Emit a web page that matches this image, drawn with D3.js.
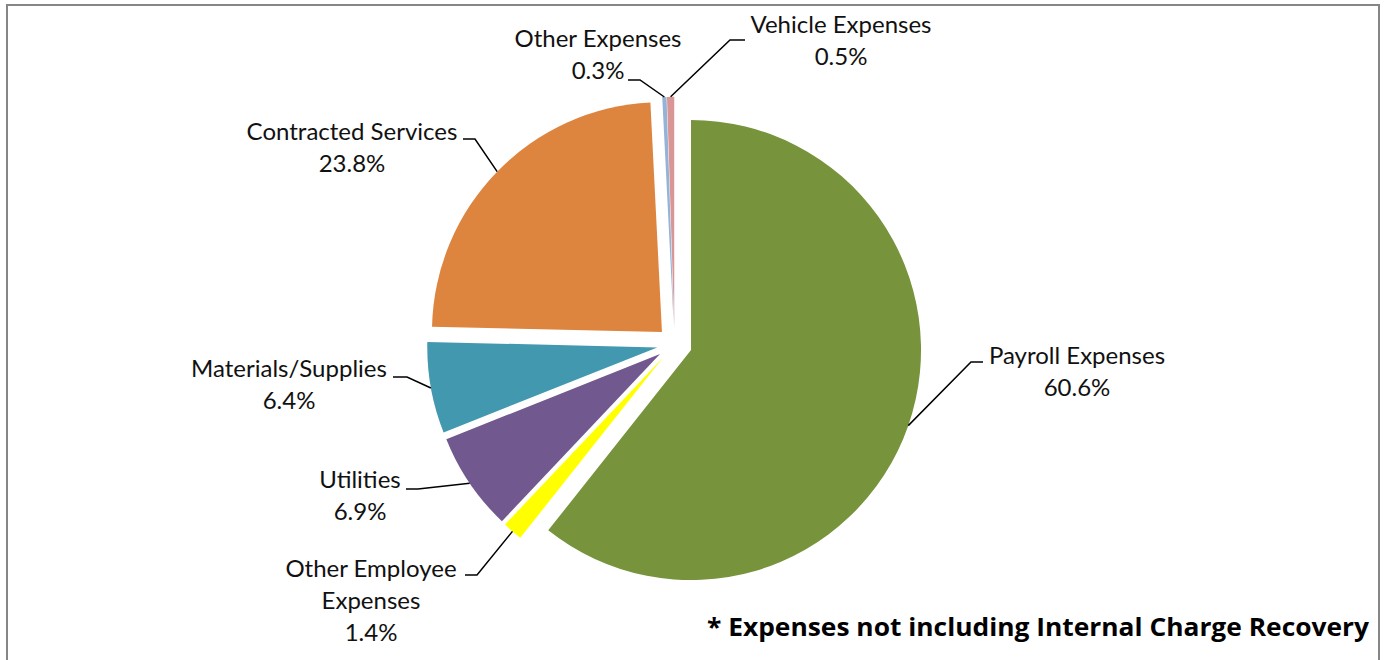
<!DOCTYPE html>
<html>
<head>
<meta charset="utf-8">
<script src="https://cdn.jsdelivr.net/npm/d3@7"></script>
<style>
  html, body { margin: 0; padding: 0; background: #fff; }
  svg { display: block; }
  .lbl { font-family: Lato, "Open Sans", sans-serif; font-size: 24px; fill: #111; }
  .note { font-family: "Open Sans", Lato, sans-serif; font-weight: 700; font-size: 25px; fill: #000; }
</style>
</head>
<body>
<svg id="chart" width="1386" height="660"></svg>
<script>
// Expense categories, in drawing order (clockwise from 12 o'clock)
const categories = [
  "Payroll Expenses",
  "Other Employee Expenses",
  "Utilities",
  "Materials/Supplies",
  "Contracted Services",
  "Other Expenses",
  "Vehicle Expenses"
];
// Share of total expenses, percent
const shares = [60.6, 1.4, 6.9, 6.4, 23.8, 0.3, 0.5];
// Label text lines for each category (the percentage is appended from shares)
const labelLines = [
  ["Payroll Expenses"],
  ["Other Employee", "Expenses"],
  ["Utilities"],
  ["Materials/Supplies"],
  ["Contracted Services"],
  ["Other Expenses"],
  ["Vehicle Expenses"]
];
const footnote = "* Expenses not including Internal Charge Recovery";

// ---- styling & layout ----
const colors = ["#77933C", "#FFFF00", "#71588F", "#4298AF", "#DD843F", "#95B3D7", "#D99694"];
const center = { x: 674.5, y: 344.3 };
const radius = 230;
const explode = 17.5;
const lineGap = 32;
// label placement: text centre x, first baseline y, leader start point and elbow x
const labelLayout = [
  { cx: 1077, y: 364, sx: 983, sy: 362, ex: 971 },
  { cx: 371,  y: 577, sx: 465, sy: 575, ex: 477 },
  { cx: 360,  y: 488, sx: 406, sy: 489, ex: 418 },
  { cx: 289,  y: 377, sx: 393, sy: 377, ex: 407 },
  { cx: 352,  y: 140, sx: 463, sy: 139, ex: 475 },
  { cx: 598,  y: 47,  sx: 628, sy: 80,  ex: 640 },
  { cx: 841,  y: 33,  sx: 745, sy: 40,  ex: 730 }
];

const svg = d3.select("#chart");

// chart frame
svg.append("rect")
  .attr("x", 7).attr("y", 5)
  .attr("width", 1372).attr("height", 700)
  .attr("fill", "#fff")
  .attr("stroke", "#868686")
  .attr("stroke-width", 2);

const data = categories.map((c, i) => ({ name: c, value: shares[i], i }));
const pie = d3.pie().sort(null).value(d => d.value).startAngle(0).endAngle(2 * Math.PI);
const arcs = pie(data);
const arc = d3.arc().innerRadius(0).outerRadius(radius);

const dir = a => [Math.sin(a), -Math.cos(a)];

const g = svg.append("g").attr("transform", `translate(${center.x},${center.y})`);

g.selectAll("path.slice")
  .data(arcs)
  .join("path")
  .attr("class", "slice")
  .attr("d", arc)
  .attr("fill", d => colors[d.index])
  .attr("transform", d => {
    const m = (d.startAngle + d.endAngle) / 2;
    const [dx, dy] = dir(m);
    return `translate(${dx * explode},${dy * explode})`;
  });

// leader lines: from label, across to elbow, then to the slice edge at its mid angle
const leaders = svg.append("g");
arcs.forEach(d => {
  const L = labelLayout[d.index];
  const m = (d.startAngle + d.endAngle) / 2;
  const [dx, dy] = dir(m);
  const tx = center.x + dx * (explode + radius);
  const ty = center.y + dy * (explode + radius);
  leaders.append("path")
    .attr("d", d3.line()([[L.sx, L.sy], [L.ex, L.sy], [tx, ty]]))
    .attr("fill", "none")
    .attr("stroke", "#000")
    .attr("stroke-width", 1.5);
});

// labels
const labels = svg.append("g");
arcs.forEach(d => {
  const L = labelLayout[d.index];
  const lines = labelLines[d.index].concat([d3.format(".1f")(d.data.value) + "%"]);
  const t = labels.append("text")
    .attr("class", "lbl")
    .attr("text-anchor", "middle");
  lines.forEach((s, k) => {
    t.append("tspan").attr("x", L.cx).attr("y", L.y + k * lineGap).text(s);
  });
});

// footnote
svg.append("text")
  .attr("class", "note")
  .attr("x", 1369).attr("y", 636)
  .attr("text-anchor", "end")
  .attr("textLength", 662)
  .attr("lengthAdjust", "spacingAndGlyphs")
  .text(footnote);
</script>
</body>
</html>
